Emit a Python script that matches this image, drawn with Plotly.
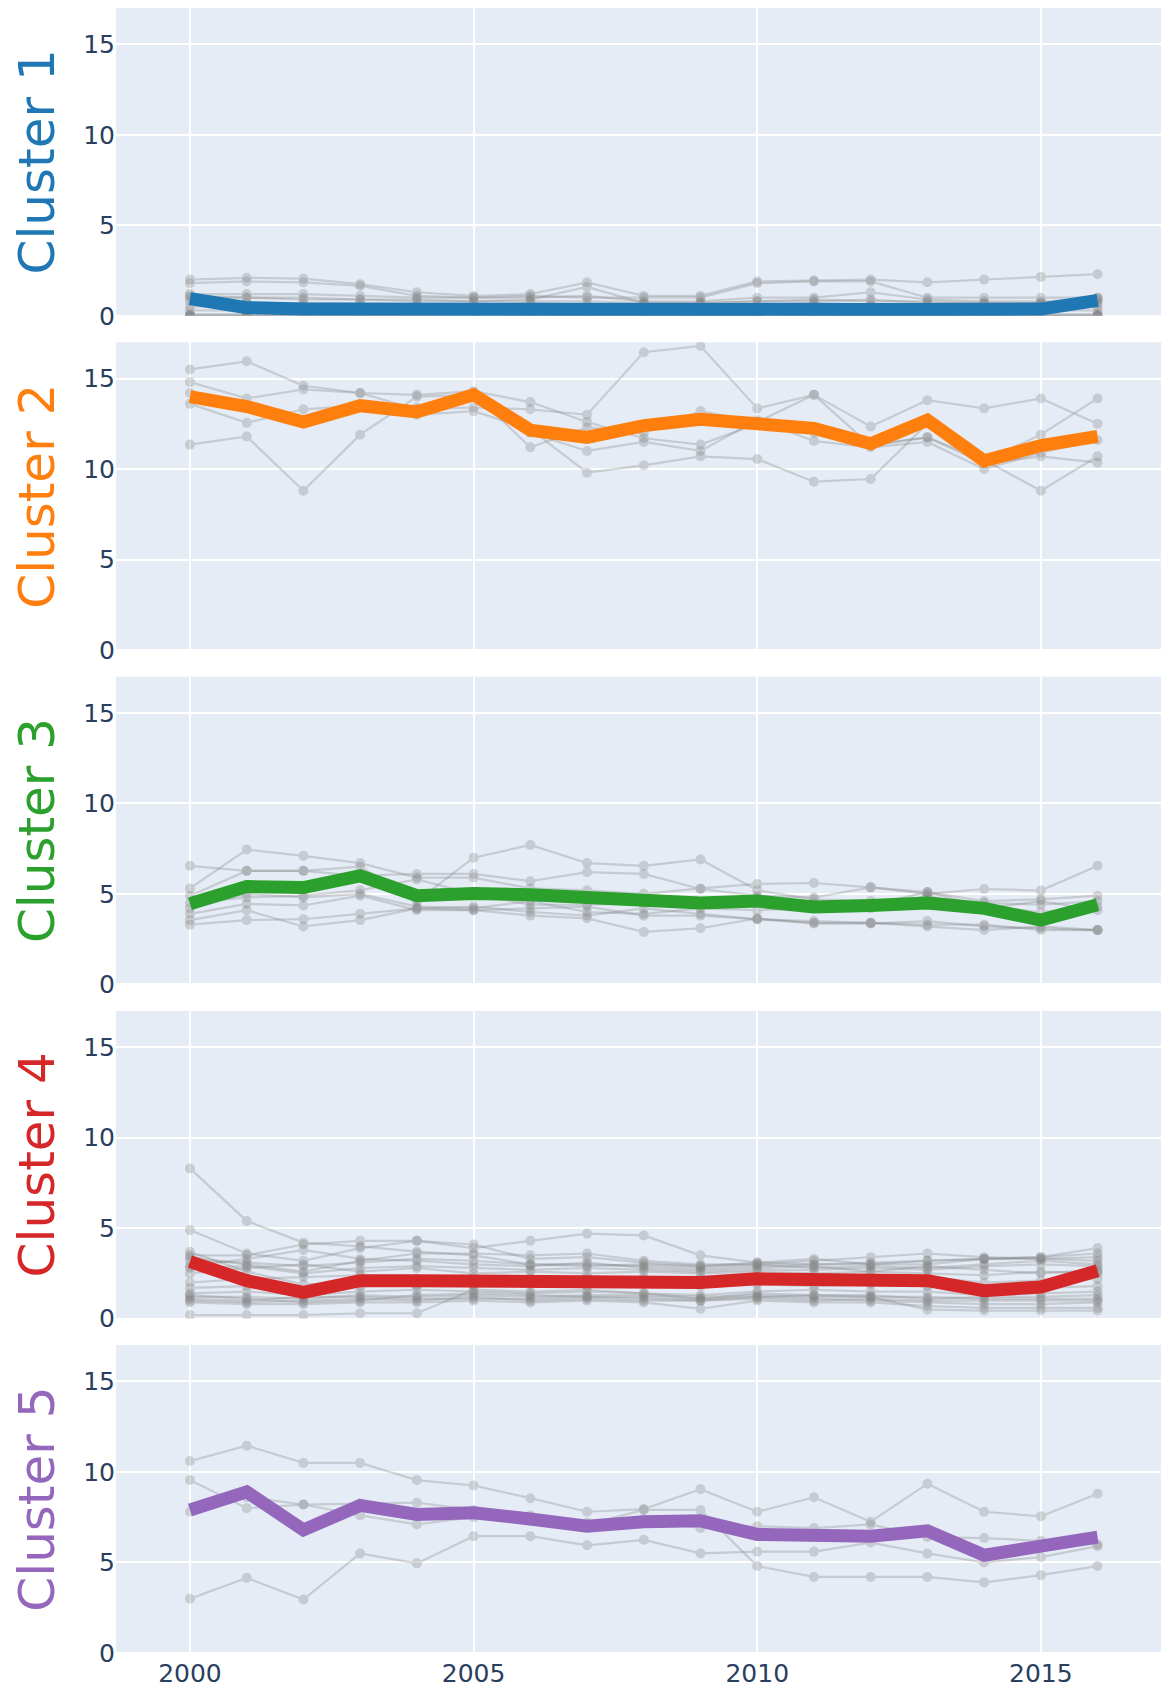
import plotly.graph_objects as go
from plotly.subplots import make_subplots

years = list(range(2000, 2017))

cluster_names = ["Cluster 1", "Cluster 2", "Cluster 3", "Cluster 4", "Cluster 5"]
cluster_colors = ["#1f77b4", "#ff7f0e", "#2ca02c", "#d62728", "#9467bd"]

# ---- Cluster 1 ----
c1_mean = [0.95, 0.45, 0.38, 0.36, 0.35, 0.35, 0.35, 0.35, 0.35, 0.35, 0.35, 0.35, 0.35, 0.35, 0.35, 0.37, 0.85]
c1_members = [
    [2.0, 2.1, 2.05, 1.75, 1.3, 1.1, 1.2, 1.85, 1.1, 1.1, 1.9, 1.95, 2.0, 1.85, 2.0, 2.15, 2.3],
    [1.8, 1.9, 1.85, 1.65, 1.1, 1.0, 1.1, 1.0, 1.0, 1.0, 1.8, 1.9, 1.9, 1.0, 1.0, 1.0, 1.0],
    [1.2, 1.2, 1.2, 1.1, 1.0, 1.0, 1.0, 1.1, 0.8, 0.8, 1.0, 1.0, 1.3, 0.9, 0.8, 0.8, 0.9],
    [1.0, 1.0, 0.9, 0.9, 0.8, 0.8, 0.9, 1.6, 0.7, 0.7, 0.8, 0.8, 0.9, 0.7, 0.7, 0.7, 0.8],
    [0.8, 0.7, 0.7, 0.7, 0.6, 0.6, 0.7, 0.6, 0.6, 0.6, 0.6, 0.7, 0.6, 0.6, 0.6, 0.6, 0.7],
    [1.1, 1.0, 1.0, 0.9, 0.9, 0.8, 0.8, 0.8, 0.7, 0.7, 0.8, 0.9, 0.8, 0.8, 0.7, 0.7, 1.0],
    [0.5, 0.5, 0.5, 0.5, 0.4, 0.4, 0.4, 0.4, 0.4, 0.4, 0.5, 0.5, 0.5, 0.4, 0.4, 0.4, 0.5],
    [0.3, 0.3, 0.3, 0.3, 0.3, 0.3, 0.3, 0.3, 0.3, 0.3, 0.3, 0.3, 0.3, 0.3, 0.3, 0.3, 0.3],
    [0.1, 0.1, 0.1, 0.1, 0.1, 0.1, 0.1, 0.1, 0.1, 0.1, 0.1, 0.1, 0.1, 0.1, 0.1, 0.1, 0.1],
    [0.0, 0.0, 0.0, 0.0, 0.0, 0.0, 0.0, 0.0, 0.0, 0.0, 0.0, 0.0, 0.0, 0.0, 0.0, 0.0, 0.0],
    [0.0, 0.0, 0.0, 0.0, 0.0, 0.0, 0.0, 0.0, 0.0, 0.0, 0.0, 0.0, 0.0, 0.0, 0.0, 0.0, 0.0],
    [0.0, 0.0, 0.0, 0.0, 0.0, 0.0, 0.0, 0.0, 0.0, 0.0, 0.0, 0.0, 0.0, 0.0, 0.0, 0.0, 0.0],
    [0.0, 0.0, 0.0, 0.0, 0.0, 0.0, 0.0, 0.0, 0.0, 0.0, 0.0, 0.0, 0.0, 0.0, 0.0, 0.0, 0.0],
]

# ---- Cluster 2 ----
c2_mean = [14.0, 13.45, 12.6, 13.5, 13.15, 14.1, 12.15, 11.75, 12.4, 12.75, 12.5, 12.25, 11.4, 12.7, 10.45, 11.3, 11.8]
c2_members = [
    [15.5, 15.95, 14.6, 14.2, 14.1, 14.3, 13.7, 12.6, 11.7, 11.35, 12.5, 12.0, 11.35, 11.75, 10.3, 10.7, 10.35],
    [14.8, 13.9, 14.4, 14.2, 13.3, 13.4, 13.3, 13.0, 16.45, 16.8, 13.35, 14.1, 12.35, 13.8, 13.35, 13.9, 12.5],
    [13.6, 12.55, 13.3, 13.5, 13.4, 14.2, 11.2, 12.3, 12.0, 13.2, 12.6, 14.1, 11.3, 11.75, 10.5, 8.8, 10.7],
    [14.2, 13.4, 12.6, 13.5, 13.0, 13.2, 12.2, 9.8, 10.2, 10.7, 10.55, 9.3, 9.45, 12.5, 10.45, 11.9, 13.9],
    [11.35, 11.8, 8.8, 11.9, 14.0, 14.1, 12.0, 11.0, 11.5, 11.0, 12.7, 11.55, 11.2, 11.5, 10.0, 10.9, 11.6],
]

# ---- Cluster 3 ----
c3_mean = [4.45, 5.4, 5.35, 6.0, 4.9, 5.02, 4.95, 4.8, 4.72, 4.5, 4.6, 4.28, 4.36, 4.5, 4.2, 3.55, 4.4]
c3_members = [
    [5.3, 7.45, 7.1, 6.7, 5.9, 5.9, 5.3, 5.2, 5.0, 5.3, 5.55, 5.6, 5.36, 5.0, 5.27, 5.18, 6.55],
    [6.55, 6.27, 6.27, 6.5, 4.6, 7.0, 7.7, 6.7, 6.55, 6.9, 5.2, 4.7, 4.6, 4.8, 4.5, 4.4, 4.6],
    [4.9, 6.27, 6.27, 6.0, 6.1, 6.1, 5.7, 6.2, 6.1, 5.27, 4.9, 4.8, 5.36, 5.1, 4.6, 4.7, 4.9],
    [4.5, 4.8, 4.9, 5.2, 5.8, 5.0, 4.4, 4.4, 4.5, 4.5, 4.8, 4.5, 4.4, 5.1, 4.3, 4.0, 4.3],
    [3.9, 4.45, 4.36, 4.9, 4.1, 4.1, 3.8, 3.65, 2.9, 3.1, 3.65, 3.36, 3.36, 3.5, 3.2, 3.1, 3.0],
    [3.55, 4.1, 3.2, 3.55, 4.2, 4.1, 4.2, 4.3, 3.8, 3.8, 3.6, 3.4, 3.4, 3.2, 3.0, 3.2, 3.0],
    [3.3, 3.55, 3.6, 3.9, 4.2, 4.3, 4.0, 3.8, 4.2, 3.9, 3.6, 3.5, 3.4, 3.3, 3.3, 3.0, 3.0],
    [4.2, 5.0, 4.8, 5.0, 4.3, 4.2, 4.6, 4.0, 3.9, 4.2, 4.1, 4.2, 4.2, 4.9, 4.2, 4.6, 4.1],
]

# ---- Cluster 4 ----
c4_mean = [3.15, 2.1, 1.45, 2.1, 2.1, 2.1, 2.1, 2.1, 2.1, 2.0, 2.2, 2.15, 2.1, 2.1, 1.55, 1.75, 2.65]
c4_members = [
    [8.3, 5.4, 4.2, 4.0, 3.7, 3.5, 3.0, 3.0, 2.9, 2.8, 2.9, 3.0, 3.1, 3.2, 3.3, 3.4, 3.6],
    [4.9, 3.6, 3.2, 3.9, 4.3, 4.1, 3.3, 3.4, 3.1, 2.9, 3.0, 3.2, 3.4, 3.6, 3.4, 3.3, 3.4],
    [3.5, 3.5, 4.1, 4.3, 4.3, 3.9, 4.3, 4.7, 4.6, 3.5, 3.1, 3.3, 3.0, 3.2, 3.3, 3.4, 3.9],
    [3.4, 3.0, 2.6, 3.2, 3.6, 3.6, 3.5, 3.6, 3.2, 3.0, 3.0, 2.8, 2.9, 2.8, 3.0, 3.2, 3.0],
    [2.9, 3.3, 3.8, 3.3, 3.2, 3.0, 2.9, 3.1, 2.8, 2.7, 2.8, 2.9, 2.6, 2.9, 2.7, 2.5, 2.7],
    [2.5, 2.8, 3.0, 2.6, 2.8, 2.5, 2.6, 2.5, 2.6, 2.5, 2.6, 2.5, 2.6, 2.5, 2.4, 2.6, 2.5],
    [2.0, 2.2, 2.3, 2.4, 2.2, 2.3, 2.2, 2.3, 2.2, 2.2, 2.3, 2.2, 2.2, 2.3, 2.0, 2.1, 2.2],
    [1.7, 1.8, 1.5, 1.8, 1.9, 1.8, 1.9, 1.8, 1.9, 1.8, 1.9, 1.8, 1.9, 1.8, 1.6, 1.7, 1.8],
    [1.4, 1.5, 1.3, 1.5, 1.6, 1.5, 1.4, 1.5, 1.4, 1.3, 1.5, 1.6, 1.5, 1.5, 1.3, 1.4, 1.5],
    [1.2, 1.2, 1.1, 1.3, 1.2, 1.3, 1.2, 1.3, 1.3, 1.2, 1.3, 1.2, 1.2, 1.2, 1.1, 1.1, 1.1],
    [1.0, 0.9, 1.0, 1.1, 1.0, 1.2, 1.0, 1.1, 1.0, 1.0, 1.2, 1.1, 1.0, 0.9, 0.8, 0.8, 0.9],
    [0.9, 0.8, 0.8, 0.9, 0.9, 1.0, 0.9, 1.0, 0.9, 0.55, 1.0, 0.9, 0.9, 0.7, 0.6, 0.6, 0.6],
    [0.2, 0.2, 0.2, 0.3, 0.3, 1.6, 1.5, 1.6, 1.4, 1.1, 1.4, 1.3, 1.2, 0.5, 0.45, 0.45, 0.45],
    [3.7, 2.6, 1.9, 2.0, 1.8, 1.9, 2.0, 2.1, 2.0, 1.9, 2.0, 2.1, 2.0, 2.1, 1.5, 1.9, 2.6],
    [3.2, 3.1, 2.9, 3.1, 3.3, 3.2, 3.0, 2.9, 3.0, 2.9, 3.1, 3.0, 3.0, 3.0, 3.3, 3.3, 3.2],
    [1.1, 1.0, 1.2, 1.2, 1.1, 1.1, 1.1, 1.2, 1.1, 1.0, 1.1, 1.0, 1.1, 1.0, 1.0, 1.0, 1.0],
    [2.8, 2.9, 2.5, 2.8, 2.9, 2.8, 2.7, 2.8, 2.7, 2.6, 2.7, 2.7, 2.8, 2.7, 2.9, 3.0, 2.9],
    [1.3, 1.1, 0.9, 1.0, 1.3, 1.4, 1.3, 1.2, 1.2, 1.1, 1.2, 1.3, 1.3, 1.1, 1.2, 1.2, 1.3],
]

# ---- Cluster 5 ----
c5_mean = [7.9, 8.9, 6.8, 8.15, 7.65, 7.75, 7.4, 7.0, 7.25, 7.3, 6.55, 6.5, 6.45, 6.75, 5.4, 5.9, 6.4]
c5_members = [
    [10.6, 11.45, 10.5, 10.5, 9.55, 9.25, 8.55, 7.8, 7.95, 9.05, 7.8, 8.6, 7.25, 9.35, 7.8, 7.55, 8.8],
    [9.55, 8.0, 8.2, 8.25, 8.3, 7.9, 7.3, 7.1, 7.9, 7.9, 4.8, 4.2, 4.2, 4.2, 3.9, 4.3, 4.8],
    [7.8, 8.6, 8.2, 7.6, 7.1, 7.5, 7.6, 7.2, 7.4, 6.9, 7.0, 6.9, 7.1, 6.4, 6.35, 6.2, 6.0],
    [3.0, 4.15, 2.95, 5.5, 4.95, 6.45, 6.45, 5.95, 6.25, 5.5, 5.6, 5.6, 6.1, 5.5, 5.0, 5.3, 5.9],
]

all_members = [c1_members, c2_members, c3_members, c4_members, c5_members]
all_means = [c1_mean, c2_mean, c3_mean, c4_mean, c5_mean]

FONT = "DejaVu Sans, Verdana, sans-serif"

fig = make_subplots(rows=5, cols=1, shared_xaxes=True, vertical_spacing=0.0161)

for i in range(5):
    for m in all_members[i]:
        fig.add_trace(go.Scatter(
            x=years, y=m, mode="lines+markers",
            line=dict(color="grey", width=2.2),
            marker=dict(color="grey", size=10),
            opacity=0.3, showlegend=False, hoverinfo="skip",
        ), row=i + 1, col=1)
    fig.add_trace(go.Scatter(
        x=years, y=all_means[i], mode="lines",
        line=dict(color=cluster_colors[i], width=13),
        showlegend=False,
    ), row=i + 1, col=1)
    fig.update_yaxes(
        range=[0, 17], tickvals=[0, 5, 10, 15], automargin=False, gridwidth=2,
        title=dict(text=cluster_names[i], font=dict(size=50, color=cluster_colors[i], family=FONT), standoff=19),
        tickfont=dict(size=25, family=FONT),
        row=i + 1, col=1,
    )

fig.update_xaxes(range=[1998.696, 2017.40], dtick=5, tick0=2000, automargin=False, gridwidth=1.5,
                 ticklabelstandoff=3, tickfont=dict(size=25, family=FONT))

fig.update_layout(
    width=1169, height=1691,
    margin=dict(l=108, r=0, t=0, b=46, autoexpand=False),
    template="plotly",
    font=dict(family=FONT),
)

fig.write_html("out.html")
